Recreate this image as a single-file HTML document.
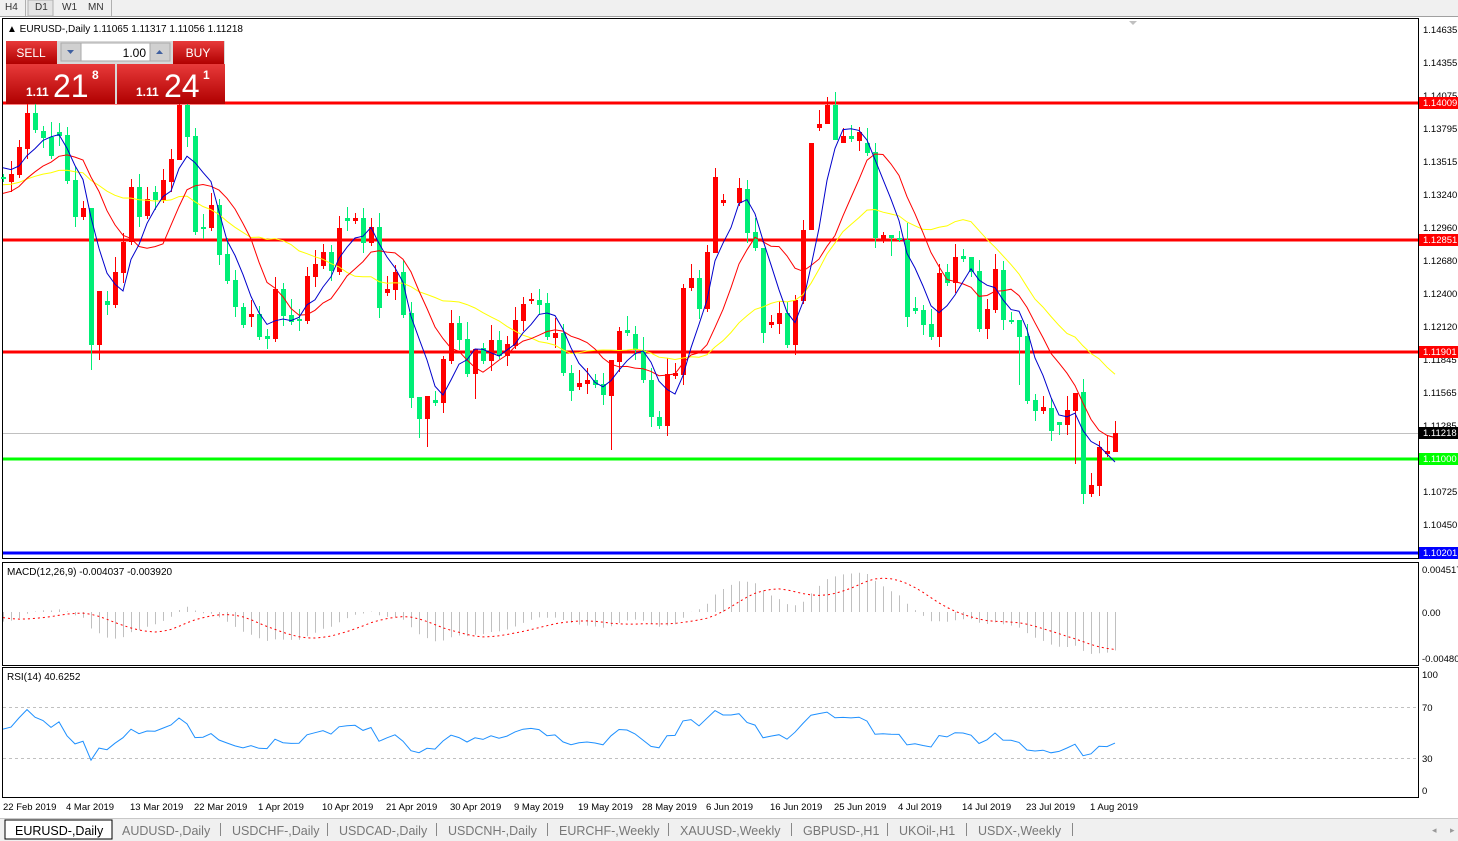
<!DOCTYPE html>
<html><head><meta charset="utf-8"><style>
html,body{margin:0;padding:0;background:#fff;width:1458px;height:841px;overflow:hidden;font-family:"Liberation Sans",Tahoma,sans-serif}
svg text{font-family:"Liberation Sans",sans-serif}
</style></head><body>
<svg id="s" width="1458" height="841" xmlns="http://www.w3.org/2000/svg" style="position:absolute;left:0;top:0">
<rect x="0" y="0" width="1458" height="17" fill="#f0f0f0"/>
<line x1="0" y1="16.5" x2="1458" y2="16.5" stroke="#a0a0a0"/>
<rect x="28" y="0" width="25" height="16" fill="#e4e4e4" stroke="#b0b0b0"/>
<g font-size="10" fill="#333"><text x="5" y="10">H4</text><text x="35" y="10">D1</text><text x="62" y="10">W1</text><text x="88" y="10">MN</text></g>
<line x1="25.5" y1="0" x2="25.5" y2="16" stroke="#b0b0b0"/><line x1="111.5" y1="0" x2="111.5" y2="16" stroke="#b0b0b0"/>
<g id="main"></g>
</svg>
<script>
var out='';
var D=[[177,179,'g'],[174,182,'r'],[147,175,'r'],[113,149,'r'],[113,130,'g'],[131,138,'g'],[137,156,'g'],[132,136,'g'],[135,181,'g'],[180,217,'g'],
[208,217,'r'],[208,345,'g'],[291,345,'r'],[301,305,'g'],[272,305,'r'],[242,273,'r'],[187,242,'r'],[187,217,'g'],[199,216,'r'],[192,200,'g'],
[180,200,'r'],[159,182,'r'],[105,160,'r'],[105,137,'g'],[136,232,'g'],[227,229,'g'],[205,228,'r'],[205,255,'g'],[254,281,'g'],[280,307,'g'],
[307,325,'g'],[314,317,'r'],[314,337,'g'],[336,339,'g'],[289,339,'r'],[289,316,'g'],[315,322,'g'],[319,321,'g'],[276,321,'r'],[264,277,'r'],
[252,266,'r'],[252,271,'g'],[228,272,'r'],[218,221,'g'],[218,221,'r'],[218,243,'g'],[227,243,'r'],[227,308,'g'],[289,293,'r'],[272,290,'r'],
[272,315,'g'],[313,398,'g'],[397,419,'g'],[396,419,'r'],[400,403,'g'],[359,403,'r'],[323,361,'r'],[323,340,'g'],[339,374,'g'],[349,374,'r'],
[348,361,'g'],[340,361,'r'],[340,356,'g'],[344,356,'r'],[320,346,'r'],[304,321,'r'],[299,301,'r'],[300,305,'g'],[303,337,'g'],[333,338,'r'],
[333,373,'g'],[373,391,'g'],[383,387,'r'],[380,384,'r'],[380,385,'g'],[384,395,'g'],[360,396,'r'],[331,362,'r'],[330,333,'g'],[334,350,'g'],
[350,380,'g'],[380,417,'g'],[417,426,'g'],[374,426,'r'],[373,376,'r'],[288,375,'r'],[278,288,'r'],[278,309,'g'],[252,309,'r'],[177,253,'r'],
[200,203,'r'],null,[188,203,'r'],[189,233,'g'],[232,248,'g'],[248,333,'g'],[322,325,'r'],[313,324,'r'],[313,345,'g'],[300,345,'r'],
[230,301,'r'],[143,230,'r'],[124,128,'r'],[105,124,'r'],[105,140,'g'],[136,143,'r'],[136,139,'g'],[132,141,'r'],[143,153,'g'],[152,238,'g'],
[235,240,'r'],[235,238,'g'],[238,239,'g'],[240,317,'g'],[308,311,'g'],[310,325,'g'],[324,337,'g'],[273,337,'r'],[272,283,'g'],[257,283,'r'],
[256,259,'g'],[257,272,'g'],[271,329,'g'],[309,329,'r'],[269,310,'r'],[270,320,'g'],[320,321,'g'],[320,337,'g'],[336,401,'g'],[400,411,'g'],
[407,411,'r'],[408,431,'g'],[422,425,'g'],[410,425,'r'],[393,411,'r'],[392,494,'g'],[485,494,'r'],[447,486,'r'],[451,454,'r'],[433,452,'r']];
var extra={11:[0,25],12:[0,15],52:[0,19],53:[0,28],59:[0,25],76:[0,54],101:[0,0],104:[13,0],103:[8,0],22:[8,0],89:[9,0],134:[0,53],127:[0,48],121:[0,5],132:[0,10],139:[12,0],111:[0,18],105:[8,0],95:[0,10]};
var closes=[];
out+='<rect x="2.5" y="18.5" width="1416" height="540" fill="#fff" stroke="#000"/>';
out+='<line x1="3" y1="433.5" x2="1418" y2="433.5" stroke="#c0c0c0"/>';
[[103,'#ff0000'],[240,'#ff0000'],[352,'#ff0000'],[459,'#00ff00'],[553,'#0000ff']].forEach(function(l){
 out+='<rect x="3" y="'+(l[0]-1.5)+'" width="1415" height="3" fill="'+l[1]+'"/>';});
for(var i=0;i<D.length;i++){var d=D[i];if(!d){closes.push(closes[closes.length-1]);continue;}
 var x=3+8*i;var c=d[2]=='r'?'#ff0000':'#00ee76';var t=d[0],b=d[1];
 var e=extra[i]||[3+(i*7)%11,3+(i*5)%10];var hi=t-e[0]-((i*3)%5),lo=b+e[1]+((i*2)%4);
 if(extra[i]){hi=t-e[0];lo=b+e[1];}
 out+='<line x1="'+(x+.5)+'" y1="'+hi+'" x2="'+(x+.5)+'" y2="'+lo+'" stroke="'+c+'"/>';
 out+='<rect x="'+(x-2)+'" y="'+t+'" width="5" height="'+Math.max(2,b-t)+'" fill="'+c+'"/>';
 closes.push(d[2]=='r'?t:b);}
function sma(n,pad){var r=[];for(var i=0;i<closes.length;i++){var s=0;for(var k=i-n+1;k<=i;k++)s+=k<0?pad:closes[k];r.push(s/n);}return r;}
function pl(a,col){var p='';for(var i=0;i<a.length;i++)p+=(i?'L':'M')+(3+8*i)+' '+a[i].toFixed(1);return '<path d="'+p+'" fill="none" stroke="'+col+'" stroke-width="1"/>';}
out+=pl(sma(21,185),'#ffff00')+pl(sma(10,195),'#ff0000')+pl(sma(5,165),'#0000cc');
out+='<rect x="3" y="19" width="250" height="20" fill="#fff"/>';
document.getElementById('main').innerHTML=out;
var pr=closes.map(function(y){return 1.14635-(y-29)/11828});
function ema(a,n){var k=2/(n+1),r=[],v=a[0];for(var i=0;i<a.length;i++){v=i?a[i]*k+v*(1-k):a[i];r.push(v)}return r}
var pre=[];for(var i=0;i<40;i++)pre.push(1.1330+0.0060*Math.sin(i/40*Math.PI)-0.002*(i/40));var all=pre.concat(pr);
var e12=ema(all,12),e26=ema(all,26),m=[];for(i=0;i<all.length;i++)m.push(e12[i]-e26[i]);
var sg=[];for(i=0;i<m.length;i++){var s=0,n=0;for(var k=Math.max(0,i-8);k<=i;k++){s+=m[k];n++}sg.push(s/n)}
var o2='<rect x="2.5" y="562.5" width="1416" height="103" fill="#fff" stroke="#000"/><rect x="2.5" y="667.5" width="1416" height="130" fill="#fff" stroke="#000"/>';
var sp='';
for(i=0;i<pr.length;i++){var mv=m[i+40],y=612-mv*9552;var x=3+8*i;
 o2+='<line x1="'+(x+.5)+'" y1="612" x2="'+(x+.5)+'" y2="'+y.toFixed(1)+'" stroke="#c0c0c0"/>';
 sp+=(i?'L':'M')+x+' '+(612-sg[i+40]*9552).toFixed(1);}
o2+='<path d="'+sp+'" fill="none" stroke="#ff0000" stroke-dasharray="2,3"/>';
var rp='';var ag=0.00045,al=0.0004;
for(i=40;i<all.length;i++){if(i>40){var ch=all[i]-all[i-1];ag=(ag*13+Math.max(ch,0))/14;al=(al*13+Math.max(-ch,0))/14;}
 var r=100-100/(1+ag/(al||1e-9));rp+=(i>40?'L':'M')+(3+8*(i-40))+' '+(790-r*1.15).toFixed(1);}
o2+='<line x1="3" y1="707.5" x2="1418" y2="707.5" stroke="#c0c0c0" stroke-dasharray="3,3"/><line x1="3" y1="758.5" x2="1418" y2="758.5" stroke="#c0c0c0" stroke-dasharray="3,3"/>';
o2+='<path d="'+rp+'" fill="none" stroke="#1e90ff"/>';
document.getElementById('main').insertAdjacentHTML('beforeend',o2);
</script>
<svg width="1458" height="841" xmlns="http://www.w3.org/2000/svg" style="position:absolute;left:0;top:0">
<g font-size="10" fill="#000">
<text x="7" y="32">▲ EURUSD-,Daily  1.11065 1.11317 1.11056 1.11218</text>
<text x="7" y="575">MACD(12,26,9) -0.004037 -0.003920</text>
<text x="7" y="680">RSI(14) 40.6252</text>
</g>
<g font-size="9.5" fill="#000">
<text x="1423" y="33">1.14635</text><text x="1423" y="66">1.14355</text><text x="1423" y="99">1.14075</text><text x="1423" y="132">1.13795</text>
<text x="1423" y="165">1.13515</text><text x="1423" y="198">1.13240</text><text x="1423" y="231">1.12960</text><text x="1423" y="264">1.12680</text>
<text x="1423" y="297">1.12400</text><text x="1423" y="330">1.12120</text><text x="1423" y="363">1.11845</text><text x="1423" y="396">1.11565</text>
<text x="1423" y="429">1.11285</text><text x="1423" y="495">1.10725</text><text x="1423" y="528">1.10450</text>
<text x="1422" y="573">0.004517</text><text x="1422" y="616">0.00</text><text x="1422" y="662">-0.00480</text>
<text x="1422" y="678">100</text><text x="1422" y="711">70</text><text x="1422" y="762">30</text><text x="1422" y="794">0</text>
</g>
<rect x="1419" y="97" width="39" height="12" fill="#ff0000"/><text x="1423" y="106" font-size="9.5" fill="#fff">1.14009</text>
<rect x="1419" y="234" width="39" height="12" fill="#ff0000"/><text x="1423" y="243" font-size="9.5" fill="#fff">1.12851</text>
<rect x="1419" y="346" width="39" height="12" fill="#ff0000"/><text x="1423" y="355" font-size="9.5" fill="#fff">1.11901</text>
<rect x="1419" y="427" width="39" height="12" fill="#000"/><text x="1423" y="436" font-size="9.5" fill="#fff">1.11218</text>
<rect x="1419" y="453" width="39" height="12" fill="#00ff00"/><text x="1423" y="462" font-size="9.5" fill="#fff">1.11000</text>
<rect x="1419" y="547" width="39" height="12" fill="#0000ff"/><text x="1423" y="556" font-size="9.5" fill="#fff">1.10201</text>
<polygon points="1129,21 1137,21 1133,25" fill="#c0c0c0"/>
<defs><linearGradient id="rg" x1="0" y1="0" x2="0" y2="1"><stop offset="0" stop-color="#e83a3a"/><stop offset="1" stop-color="#b00000"/></linearGradient></defs>
<rect x="6" y="41" width="219" height="63" fill="#d8d8d8"/>
<rect x="6" y="41" width="51" height="23" fill="url(#rg)"/><text x="31" y="57" font-size="12" fill="#fff" text-anchor="middle">SELL</text>
<rect x="173" y="41" width="51" height="23" fill="url(#rg)"/><text x="198" y="57" font-size="12" fill="#fff" text-anchor="middle">BUY</text>
<rect x="61" y="43" width="20" height="18" fill="#d0d0d0" stroke="#aaa"/><polygon points="67,50 74,50 70.5,54" fill="#4060a0"/>
<rect x="81" y="43" width="69" height="18" fill="#fff" stroke="#aaa"/><text x="146" y="57" font-size="12" text-anchor="end">1.00</text>
<rect x="150" y="43" width="20" height="18" fill="#d0d0d0" stroke="#aaa"/><polygon points="156,54 163,54 159.5,50" fill="#4060a0"/>
<rect x="6" y="64" width="109" height="40" fill="url(#rg)"/><rect x="117" y="64" width="108" height="40" fill="url(#rg)"/>
<text x="26" y="96" font-size="12" font-weight="bold" fill="#fff">1.11</text><text x="53" y="97" font-size="32" fill="#fff">21</text><text x="92" y="79" font-size="12" font-weight="bold" fill="#fff">8</text>
<text x="136" y="96" font-size="12" font-weight="bold" fill="#fff">1.11</text><text x="164" y="97" font-size="32" fill="#fff">24</text><text x="203" y="79" font-size="12" font-weight="bold" fill="#fff">1</text>
<g font-size="9.5" fill="#000">
<text x="3" y="810">22 Feb 2019</text><text x="66" y="810">4 Mar 2019</text><text x="130" y="810">13 Mar 2019</text><text x="194" y="810">22 Mar 2019</text>
<text x="258" y="810">1 Apr 2019</text><text x="322" y="810">10 Apr 2019</text><text x="386" y="810">21 Apr 2019</text><text x="450" y="810">30 Apr 2019</text>
<text x="514" y="810">9 May 2019</text><text x="578" y="810">19 May 2019</text><text x="642" y="810">28 May 2019</text><text x="706" y="810">6 Jun 2019</text>
<text x="770" y="810">16 Jun 2019</text><text x="834" y="810">25 Jun 2019</text><text x="898" y="810">4 Jul 2019</text><text x="962" y="810">14 Jul 2019</text>
<text x="1026" y="810">23 Jul 2019</text><text x="1090" y="810">1 Aug 2019</text>
</g>
<rect x="0" y="818" width="1458" height="23" fill="#f0f0f0"/><line x1="0" y1="818.5" x2="1458" y2="818.5" stroke="#c8c8c8"/>
<rect x="5" y="820" width="107" height="19" fill="#fff" stroke="#000"/>
<g font-size="12.5" fill="#777">
<text x="15" y="835" fill="#000">EURUSD-,Daily</text><text x="122" y="835">AUDUSD-,Daily</text><text x="232" y="835">USDCHF-,Daily</text>
<text x="339" y="835">USDCAD-,Daily</text><text x="448" y="835">USDCNH-,Daily</text><text x="559" y="835">EURCHF-,Weekly</text>
<text x="680" y="835">XAUUSD-,Weekly</text><text x="803" y="835">GBPUSD-,H1</text><text x="899" y="835">UKOil-,H1</text><text x="978" y="835">USDX-,Weekly</text>
</g>
<g stroke="#888"><line x1="220.5" y1="823" x2="220.5" y2="836"/><line x1="327.5" y1="823" x2="327.5" y2="836"/><line x1="436.5" y1="823" x2="436.5" y2="836"/><line x1="547.5" y1="823" x2="547.5" y2="836"/><line x1="668.5" y1="823" x2="668.5" y2="836"/><line x1="791.5" y1="823" x2="791.5" y2="836"/><line x1="887.5" y1="823" x2="887.5" y2="836"/><line x1="966.5" y1="823" x2="966.5" y2="836"/><line x1="1072.5" y1="823" x2="1072.5" y2="836"/></g>
<text x="1432" y="833" font-size="9" fill="#999">◂</text><text x="1450" y="833" font-size="9" fill="#999">▸</text>
</svg>
</body></html>
